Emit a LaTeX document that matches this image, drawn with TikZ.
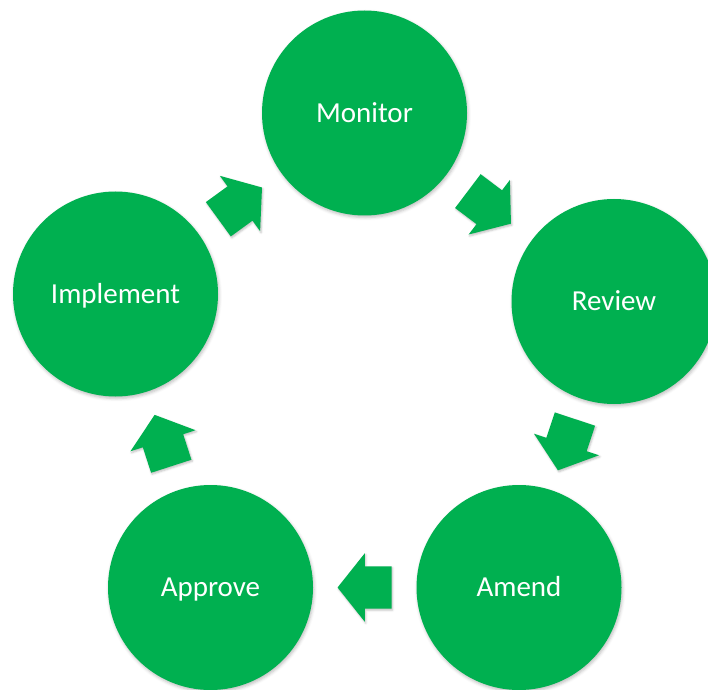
\documentclass[tikz,border=0pt]{standalone}
\usepackage{fontspec}
\setmainfont{Carlito}
\usetikzlibrary{calc,positioning,shapes.arrows,shadows.blur}
\definecolor{cyclegreen}{HTML}{00B050}
\tikzset{stagenode/.style={shape=circle,fill=cyclegreen,text=white,inner sep=0pt,minimum size=205pt,text height=18.5pt,text depth=0pt,font=\fontsize{29}{35}\selectfont,blur shadow={shadow xshift=1pt,shadow yshift=-2pt,shadow blur radius=3pt,shadow opacity=25}},
cyclearrow/.style={single arrow,fill=cyclegreen,inner xsep=0pt,inner ysep=21pt,minimum height=54pt,single arrow head extend=13pt,single arrow tip angle=103,single arrow head indent=0pt,anchor=tail,blur shadow={shadow xshift=1pt,shadow yshift=-1.5pt,shadow blur radius=2pt,shadow opacity=25}}}

\begin{document}
\begin{tikzpicture}[x=1pt,y=1pt]
\useasboundingbox (0,0) rectangle (708,689);

% Stages
\node[stagenode] (monitor) at (364.5,576) {Monitor};
\node[stagenode] (review) at (614,387.5) {Review};
\node[stagenode] (amend) at (519,101.5) {Amend};
\node[stagenode] (approve) at (210.5,101.5) {Approve};
\node[stagenode] (implement) at (115.5,395) {Implement};

% Block arrows, halfway between two stages (tail 27pt before the midpoint)
\foreach \from/\to in {implement/monitor,monitor/review,review/amend,amend/approve,approve/implement}
  \path let \p1=($(\to)-(\from)$), \n1={atan2(\y1,\x1)} in node[cyclearrow,rotate=\n1] (arr-\from) at ($(\from)!0.5!(\to)!27pt!(\from)$) {};

\end{tikzpicture}
\end{document}
